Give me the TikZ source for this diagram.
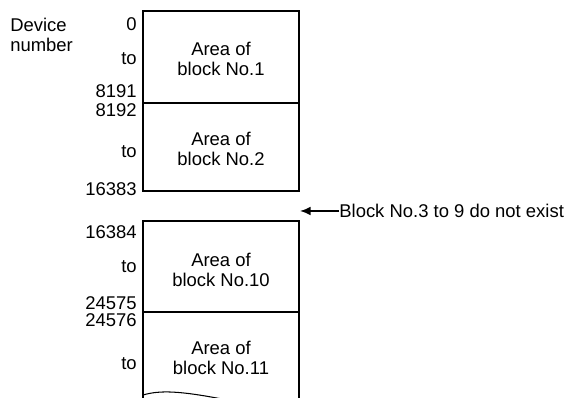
\documentclass[tikz,border=0pt]{standalone}
\usepackage{fontspec}
\setmainfont{Liberation Sans}
\usetikzlibrary{arrows.meta}
\begin{document}
\begin{tikzpicture}[x=0.02cm,y=-0.02cm,font=\fontsize{10.5}{11.4}\selectfont,
  num/.style={anchor=east,inner sep=0pt},
  area/.style={align=center,inner sep=0pt},
  frame/.style={line width=0.6pt}]
\useasboundingbox (0,0) rectangle (568,398);
% upper memory part
\coordinate (A) at (143,11); \coordinate (B) at (299,191);
\draw[frame] (A) rectangle (B);
\draw[frame] (143,103)--(299,103);
% lower memory part, cut at the bottom
\draw[frame] (143,398)--(143,221)--(299,221)--(299,398);
\draw[frame] (143,395) .. controls (160,390) and (180,391) .. (222,399);
\node[anchor=west,align=left,inner sep=0pt] (dev) at (10,35) {Device\\number};
\draw[frame] (143,312)--(299,312);
\node[num] (n0) at (137,24.5) {0};
\node[num] (t1) at (137,59) {to};
\node[num] (n8191) at (137,91.5) {8191};
\node[num] (n8192) at (137,110) {8192};
\node[num] (t2) at (137,152) {to};
\node[num] (n16383) at (137,189) {16383};
\node[num] (n16384) at (137,232) {16384};
\node[num] (t10) at (137,267) {to};
\node[num] (n24575) at (137,303) {24575};
\node[num] (n24576) at (137,320) {24576};
\node[num] (t11) at (137,364) {to};
\node[area] (b1) at (221,58.5) {Area of\\block No.1};
\node[area] (b2) at (221,148.5) {Area of\\block No.2};
\node[area] (b10) at (221,270) {Area of\\block No.10};
\node[area] (b11) at (221,358) {Area of\\block No.11};
\coordinate (tip) at (300,211);
\node[anchor=west,inner sep=0pt] (gap) at (339,211) {Block No.3 to 9 do not exist};
\draw[line width=1pt,-{Latex[length=6pt,width=5pt]}] (gap.west) -- (tip);
\end{tikzpicture}
\end{document}
